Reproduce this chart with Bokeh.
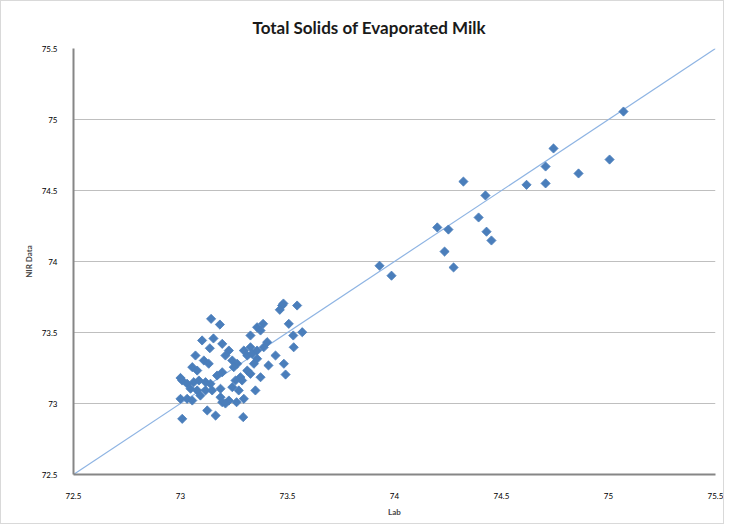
import math
from bokeh.plotting import figure
from bokeh.models import FixedTicker, Range1d
from bokeh.embed import file_html
from bokeh.resources import INLINE

# Lab values (x) and NIR values (y)
lab = [75.07, 74.743, 75.005, 74.706, 74.86, 74.617, 74.706, 74.322, 74.425, 74.393,
       74.43, 74.453, 74.20, 74.252, 74.234, 74.276, 73.93, 73.986,
       73.475, 73.481, 73.545, 73.464, 73.143, 73.184, 73.358, 73.386, 73.374, 73.506,
       73.327, 73.527, 73.569, 73.405, 73.389, 73.101, 73.137, 73.195, 73.226, 73.327,
       73.358, 73.296, 73.529, 73.070, 73.109, 73.132, 73.210, 73.242, 73.265, 73.249,
       73.312, 73.335, 73.358, 73.343, 73.483, 73.491, 73.055, 73.078, 73.195, 73.171,
       73.280, 73.257, 73.312, 73.327, 73.374, 73.008, 73.031, 73.062, 73.086, 73.117,
       73.140, 73.047, 73.078, 73.117, 73.148, 73.187, 73.242, 73.272, 73.350, 73.288,
       73.000, 73.031, 73.055, 73.187, 73.195, 73.226, 73.296, 73.262, 73.125, 73.164,
       73.008, 73.293, 73.210, 73.000, 73.093, 73.411, 73.444, 73.154]
nir = [75.056, 74.796, 74.718, 74.669, 74.62, 74.54, 74.55, 74.563, 74.465, 74.31,
       74.21, 74.148, 74.24, 74.225, 74.07, 73.958, 73.97, 73.90,
       73.690, 73.704, 73.690, 73.660, 73.596, 73.556, 73.537, 73.561, 73.514, 73.561,
       73.479, 73.479, 73.502, 73.432, 73.396, 73.444, 73.389, 73.420, 73.373, 73.396,
       73.373, 73.373, 73.396, 73.338, 73.303, 73.280, 73.338, 73.303, 73.280, 73.256,
       73.338, 73.350, 73.315, 73.280, 73.280, 73.204, 73.256, 73.232, 73.220, 73.197,
       73.185, 73.162, 73.232, 73.209, 73.185, 73.162, 73.139, 73.150, 73.162, 73.150,
       73.139, 73.104, 73.092, 73.092, 73.092, 73.104, 73.115, 73.092, 73.092, 73.162,
       73.033, 73.033, 73.021, 73.044, 73.009, 73.021, 73.033, 73.009, 72.951, 72.915,
       72.892, 72.904, 73.000, 73.18, 73.056, 73.268, 73.338, 73.458]

ticks = [72.5, 73, 73.5, 74, 74.5, 75, 75.5]
tick_labels = ["72.5", "73", "73.5", "74", "74.5", "75", "75.5"]
line_x = [72.5, 75.5]
line_y = [72.5, 75.5]

FONT = "Lato"

p = figure(width=724, height=524, output_backend="svg", toolbar_location=None,
           x_range=Range1d(72.5, 75.5), y_range=Range1d(72.5, 75.5),
           min_border_left=72, min_border_right=10, min_border_top=47, min_border_bottom=51,
           title="Total Solids of Evaporated Milk")
p.styles = {"border": "1px solid #d9d9d9"}
p.title.align = "left"
p.title.offset = 179
p.title.text_font = FONT
p.title.text_font_size = "17px"
p.title.text_font_style = "bold"
p.title.text_color = "#1a1a1a"
p.title.standoff = 22
p.outline_line_color = None
p.background_fill_color = "white"

p.line(line_x, line_y, line_color="#8eb4e3", line_width=1.2)
p.scatter(lab, nir, marker="square", size=6.5, angle=math.pi / 4,
          fill_color="#4a7ebb", line_color="#4a7ebb", line_width=0.8)

for ax in (p.xaxis[0], p.yaxis[0]):
    ax.ticker = FixedTicker(ticks=ticks)
    ax.major_label_overrides = {t: l for t, l in zip(ticks, tick_labels)}
    ax.major_tick_line_color = None
    ax.minor_tick_line_color = None
    ax.axis_line_color = "#868686"
    ax.axis_line_width = 2
    ax.major_label_text_font = FONT
    ax.major_label_text_font_size = "8px"
    ax.major_label_text_color = "#000000"
    ax.axis_label_text_font = FONT
    ax.axis_label_text_font_size = "8px"
    ax.axis_label_text_font_style = "bold"

p.xaxis.axis_label = "Lab"
p.yaxis.axis_label = "NIR Data"
p.xaxis.major_label_standoff = 12
p.yaxis.major_label_standoff = 10

p.xgrid.grid_line_color = None
p.ygrid.ticker = FixedTicker(ticks=ticks)
p.ygrid.grid_line_color = "#bfbfbf"
p.ygrid.grid_line_width = 1

open("out.html", "w").write(file_html(p, INLINE))
